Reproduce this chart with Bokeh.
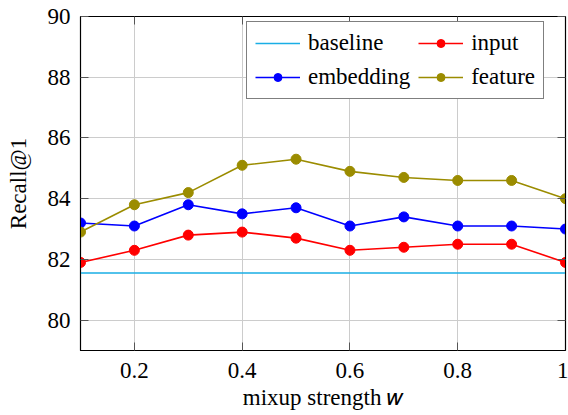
from bokeh.plotting import figure
from bokeh.models import Range1d, LinearAxis, FixedTicker, Legend, CustomJSTickFormatter
from bokeh.embed import file_html
from bokeh.resources import INLINE

# Data
w = [0.1, 0.2, 0.3, 0.4, 0.5, 0.6, 0.7, 0.8, 0.9, 1.0]
baseline = 81.55
input_vals = [81.9, 82.3, 82.8, 82.9, 82.7, 82.3, 82.4, 82.5, 82.5, 81.9]
embedding_vals = [83.2, 83.1, 83.8, 83.5, 83.7, 83.1, 83.4, 83.1, 83.1, 83.0]
feature_vals = [82.9, 83.8, 84.2, 85.1, 85.3, 84.9, 84.7, 84.6, 84.6, 84.0]
x_ticks = [0.2, 0.4, 0.6, 0.8, 1.0]
y_ticks = [80, 82, 84, 86, 88, 90]

FONT = "Liberation Serif"
FS = "23px"

p = figure(width=568, height=412, output_backend="svg", toolbar_location=None,
           x_range=Range1d(0.1, 1.0), y_range=Range1d(79, 90),
           min_border_left=80, min_border_right=3, min_border_top=16, min_border_bottom=62)
p.background_fill_color = "white"
p.border_fill_color = "white"
p.outline_line_color = "black"
p.outline_line_width = 1.2

for ax in (p.xaxis[0], p.yaxis[0]):
    ax.major_tick_in = 8
    ax.major_tick_out = 0
    ax.minor_tick_in = 0
    ax.minor_tick_out = 0
    ax.major_tick_line_color = "#555555"
    ax.axis_line_color = "black"
    ax.major_label_text_font = FONT
    ax.major_label_text_font_size = FS
    ax.major_label_text_color = "black"
    ax.axis_label_text_font = FONT
    ax.axis_label_text_font_size = FS
    ax.axis_label_text_font_style = "normal"
    ax.axis_label_text_color = "black"

p.xaxis[0].ticker = FixedTicker(ticks=x_ticks)
p.xaxis[0].major_label_overrides = {1: "1"}
p.xaxis[0].major_label_standoff = 12
p.xaxis[0].axis_label = "mixup strength 𝑤"
p.xaxis[0].axis_label_standoff = 4
p.yaxis[0].ticker = FixedTicker(ticks=y_ticks)
p.yaxis[0].major_label_standoff = 10
p.yaxis[0].axis_label = "Recall@1"
p.yaxis[0].axis_label_standoff = 14

# ticks on opposite sides (pgfplots style), no labels
for side, ticks in (("right", y_ticks), ("above", x_ticks)):
    ax = LinearAxis(ticker=FixedTicker(ticks=ticks),
                    formatter=CustomJSTickFormatter(code="return ''"))
    ax.major_tick_in = 8
    ax.major_tick_out = 0
    ax.minor_tick_in = 0
    ax.minor_tick_out = 0
    ax.major_tick_line_color = "#555555"
    ax.axis_line_color = "black"
    ax.major_label_standoff = 0
    p.add_layout(ax, side)

p.xgrid.ticker = FixedTicker(ticks=x_ticks)
p.ygrid.ticker = FixedTicker(ticks=y_ticks)
p.xgrid.grid_line_color = "#cccccc"
p.ygrid.grid_line_color = "#cccccc"

c_base = "#1aaee5"
c_in = "#ff0000"
c_emb = "#0000ff"
c_feat = "#9b8c00"

rend = {}
rend["baseline"] = [p.line(w, [baseline] * len(w), line_color=c_base, line_width=1.6)]
for name, vals, col in (("input", input_vals, c_in), ("embedding", embedding_vals, c_emb),
                        ("feature", feature_vals, c_feat)):
    rl = p.line(w, vals, line_color=col, line_width=1.6)
    rs = p.scatter(w, vals, marker="circle", size=10, fill_color=col, line_color=col)
    rend[name] = [rl, rs]

# column-major fill: baseline/embedding in col 1, input/feature in col 2
order = ["baseline", "embedding", "input", "feature"]
legend = Legend(items=[(n, rend[n]) for n in order], ncols=2, location=(166, 251))
legend.margin = 0
legend.padding = 8
legend.spacing = 8
legend.glyph_width = 45
legend.label_standoff = 8
legend.label_text_font = FONT
legend.label_text_font_size = FS
legend.label_text_color = "black"
legend.border_line_color = "black"
legend.border_line_width = 1
legend.background_fill_alpha = 1
p.add_layout(legend)

open("out.html", "w").write(file_html(p, INLINE))
